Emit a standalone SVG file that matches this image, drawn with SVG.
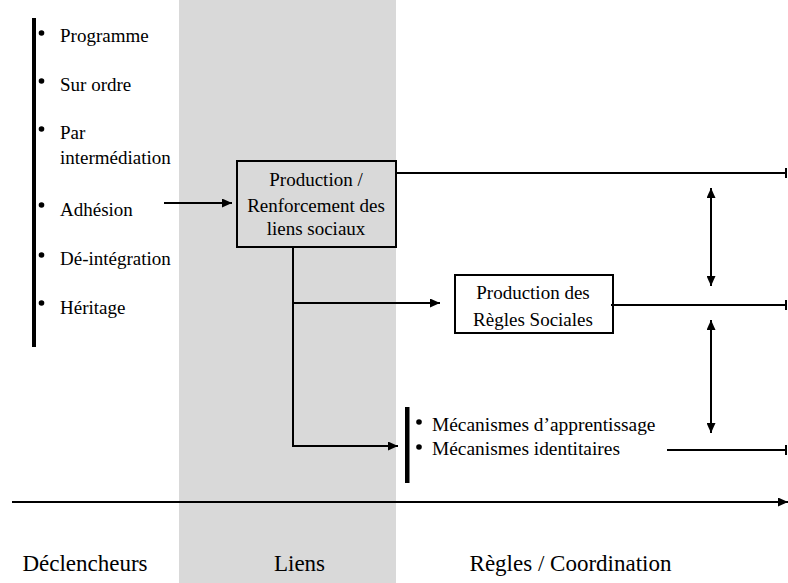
<svg xmlns="http://www.w3.org/2000/svg" width="788" height="583" viewBox="0 0 788 583" font-family="Liberation Serif">
<defs>
<marker id="ah" viewBox="0 0 10 10" refX="10" refY="5" markerWidth="5" markerHeight="4.5" orient="auto-start-reverse" markerUnits="strokeWidth" preserveAspectRatio="none"><path d="M0,0 L10,5 L0,10 z" fill="#000"/></marker>
<marker id="tk" viewBox="0 0 4 10" refX="4" refY="5" markerWidth="1" markerHeight="5" orient="auto" markerUnits="strokeWidth" preserveAspectRatio="none"><path d="M0,0 L4,0 L4,10 L0,10 z" fill="#000"/></marker>
</defs>
<rect x="0" y="0" width="788" height="583" fill="#fff"/>
<rect x="179" y="0" width="217" height="583" fill="#d9d9d9"/>

<g id="declencheurs">
<rect fill="#000" x="32" y="18" width="4" height="329"/>
<circle cx="41.5" cy="33" r="2.8"/><text style="font-family:'Times New Roman'" font-size="19" x="60" y="42">Programme</text>
<circle cx="41.5" cy="81" r="2.8"/><text style="font-family:'Times New Roman'" font-size="19" x="60" y="91">Sur ordre</text>
<circle cx="41.5" cy="129" r="2.8"/><text style="font-family:'Times New Roman'" font-size="19" x="60" y="139">Par</text>
<text style="font-family:'Times New Roman'" font-size="19" x="60" y="164">intermédiation</text>
<circle cx="41.5" cy="205" r="2.8"/><text style="font-family:'Times New Roman'" font-size="19" x="60" y="216">Adhésion</text>
<circle cx="41.5" cy="255" r="2.8"/><text style="font-family:'Times New Roman'" font-size="19" x="60" y="265">Dé-intégration</text>
<circle cx="41.5" cy="303" r="2.8"/><text style="font-family:'Times New Roman'" font-size="19" x="60" y="314">Héritage</text>
</g>

<g id="liens-sociaux">
<rect x="237" y="161" width="159" height="86" fill="#d9d9d9" stroke="#000" stroke-width="2"/>
<text style="font-family:'Times New Roman'" font-size="19" x="316" y="186" text-anchor="middle">Production /</text>
<text style="font-family:'Times New Roman'" font-size="19" x="316" y="212" text-anchor="middle">Renforcement des</text>
<text style="font-family:'Times New Roman'" font-size="19" x="316" y="235" text-anchor="middle">liens sociaux</text>
</g>

<g id="regles-sociales">
<rect x="455" y="275" width="158" height="58" fill="#fff" stroke="#000" stroke-width="2"/>
<text style="font-family:'Times New Roman'" font-size="19" x="533" y="299" text-anchor="middle">Production des</text>
<text style="font-family:'Times New Roman'" font-size="19" x="533" y="326" text-anchor="middle">Règles Sociales</text>
</g>

<g id="mecanismes">
<rect fill="#000" x="405" y="407" width="4.5" height="76"/>
<circle cx="419" cy="422" r="2.8"/><text style="font-family:'Times New Roman'" font-size="19.4" x="432" y="431">Mécanismes d’apprentissage</text>
<circle cx="419" cy="447" r="2.8"/><text style="font-family:'Times New Roman'" font-size="19.4" x="432" y="455">Mécanismes identitaires</text>
</g>

<g id="axis-labels">
<text style="font-family:'Times New Roman'" font-size="23" x="85" y="571" text-anchor="middle">Déclencheurs</text>
<text style="font-family:'Times New Roman'" font-size="23" x="299.5" y="571" text-anchor="middle">Liens</text>
<text style="font-family:'Times New Roman'" font-size="23" x="570.5" y="571" text-anchor="middle">Règles / Coordination</text>
</g>

<g id="connectors" stroke="#000" stroke-width="2" fill="none">
<line x1="164" y1="203" x2="232" y2="203" marker-end="url(#ah)"/>
<line x1="396" y1="173" x2="787" y2="173" marker-end="url(#tk)"/>
<path d="M293,247 V446 H398" marker-end="url(#ah)"/>
<line x1="293" y1="303" x2="440" y2="303" marker-end="url(#ah)"/>
<line x1="611" y1="305" x2="787" y2="305" marker-end="url(#tk)"/>
<line x1="667" y1="450" x2="787" y2="450" marker-end="url(#tk)"/>
<line x1="711" y1="188" x2="711" y2="286" marker-start="url(#ah)" marker-end="url(#ah)"/>
<line x1="711" y1="320" x2="711" y2="433" marker-start="url(#ah)" marker-end="url(#ah)"/>
<line x1="12" y1="502" x2="788" y2="502" marker-end="url(#ah)"/>
</g>
</svg>
